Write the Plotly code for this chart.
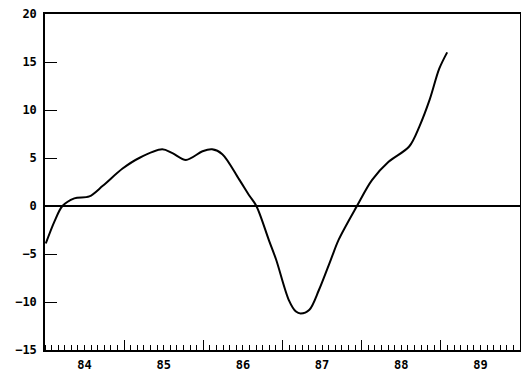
import plotly.graph_objects as go

# data (x in decimal years, y values)
years = [1984.01, 1984.12, 1984.22, 1984.37, 1984.56, 1984.73, 1984.98, 1985.19,
         1985.48, 1985.61, 1985.78, 1985.99, 1986.11, 1986.24, 1986.45, 1986.58,
         1986.67, 1986.83, 1986.92, 1987.08, 1987.17, 1987.23, 1987.34, 1987.46,
         1987.61, 1987.71, 1987.94, 1988.13, 1988.34, 1988.60, 1988.73, 1988.86,
         1988.98, 1989.08]
values = [-3.9, -1.6, 0.0, 0.8, 1.0, 2.1, 3.9, 5.0,
          5.9, 5.5, 4.8, 5.7, 5.9, 5.4, 2.8, 1.1,
          0.0, -3.6, -5.6, -9.8, -11.0, -11.2, -10.8, -8.75,
          -5.6, -3.5, 0.0, 2.7, 4.6, 6.2, 8.3, 11.1,
          14.3, 16.0]

year_label_pos = [1984.5, 1985.5, 1986.5, 1987.5, 1988.5, 1989.5]
year_labels = ["84", "85", "86", "87", "88", "89"]
year_bounds = [1985, 1986, 1987, 1988, 1989]
y_ticks = [-15, -10, -5, 0, 5, 10, 15, 20]

font = dict(family="DejaVu Sans Mono", size=12, color="black", weight="bold")

fig = go.Figure()
fig.add_trace(go.Scatter(x=years, y=values, mode="lines",
                         line=dict(color="black", width=2, shape="spline", smoothing=0.9),
                         showlegend=False, hoverinfo="skip"))
fig.add_trace(go.Scatter(x=[1984, 1990], y=[None, None], xaxis="x2", showlegend=False))

fig.update_layout(
    width=521, height=372,
    margin=dict(l=45, r=1, t=14, b=22),
    paper_bgcolor="white", plot_bgcolor="white",
    xaxis=dict(range=[1984, 1990], tickvals=year_label_pos, ticktext=year_labels,
               ticks="", showgrid=False, zeroline=False, showline=True,
               linecolor="black", linewidth=1.5, mirror=True, tickfont=font,
               automargin=False, ticklabelstandoff=3,
               minor=dict(tick0=1984, dtick=1/12, ticks="inside", ticklen=5,
                          tickcolor="black", tickwidth=1, showgrid=False)),
    xaxis2=dict(range=[1984, 1990], overlaying="x", side="bottom",
                tickvals=year_bounds, ticks="inside", ticklen=10, tickwidth=1,
                tickcolor="black", showticklabels=False, showgrid=False,
                zeroline=False, showline=False, automargin=False),
    yaxis=dict(range=[-15, 20], tickvals=y_ticks, ticks="inside", ticklen=12,
               tickcolor="black", tickwidth=1, showgrid=False, zeroline=True,
               zerolinecolor="black", zerolinewidth=1.5, showline=True,
               linecolor="black", linewidth=1.5, mirror=True, tickfont=font,
               automargin=False, ticklabelstandoff=4),
)
fig.write_html("out.html", config={"displayModeBar": False},
               post_script="document.body.style.margin='0';")
